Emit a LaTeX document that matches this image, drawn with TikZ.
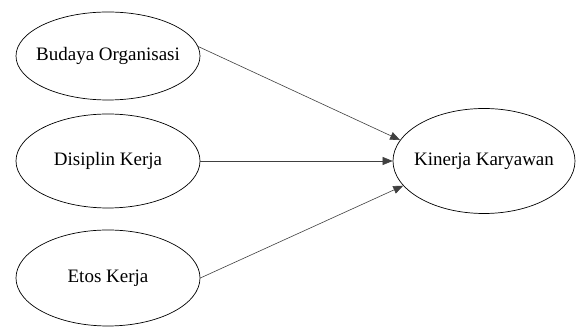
\documentclass[tikz,border=0pt]{standalone}
\usepackage{fontspec}
\setmainfont{Liberation Serif}
\usepackage{tikz}
\usetikzlibrary{shapes.geometric,arrows.meta}

\begin{document}
\begin{tikzpicture}[x=1pt,y=1pt,
    var/.style={draw, ellipse, line width=0.7pt, inner sep=0pt,
      minimum width=184pt, minimum height=92pt,
      label={[font=\fontsize{19}{23}\selectfont]center:#1}},
    arr/.style={-{Triangle[length=10pt,width=8pt]}, line width=0.6pt, black!75}]
  \useasboundingbox (0,0) rectangle (576,331);
  \node[var={Budaya Organisasi}, minimum height=88pt] (bo) at (108,275) {};
  \node[var={Disiplin Kerja}, minimum height=94pt] (dk) at (108,170) {};
  \node[var={Etos Kerja}, minimum height=96pt] (ek) at (108,53) {};
  \node[var={Kinerja Karyawan}, minimum width=182pt, minimum height=105pt] (kk) at (484,170) {};
  \foreach \src/\from/\to in {bo/6/166, dk/0/180, ek/0/197} {
    \draw[arr] (\src.\from) -- (kk.\to);
  }
\end{tikzpicture}
\end{document}
